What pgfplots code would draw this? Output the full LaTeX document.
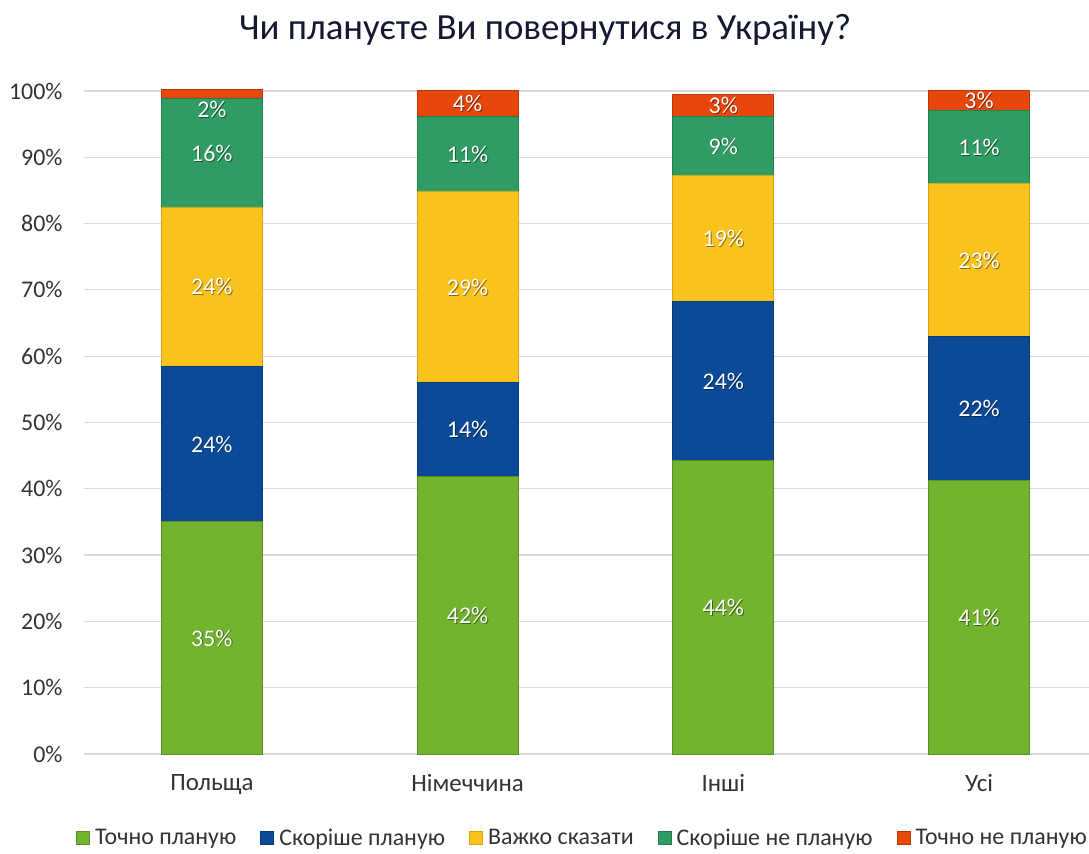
\documentclass[border=0pt]{standalone}
\usepackage{fontspec}
\setmainfont{Carlito}
\usepackage{pgfplots}
\usepackage{pgfplotstable}
\pgfplotsset{compat=1.18}
\definecolor{cA}{HTML}{72B42E}
\definecolor{cB}{HTML}{0B4A96}
\definecolor{cC}{HTML}{F9C21C}
\definecolor{cD}{HTML}{2E9C63}
\definecolor{cE}{HTML}{E8470C}
\definecolor{gridc}{HTML}{D9D9D9}
\definecolor{txt}{HTML}{333333}
\definecolor{titlec}{HTML}{141830}

% segment sizes (%)
\pgfplotstableread{
x  a     b     c     d     e
0  35.0  23.5  24.0  16.4  1.3
1  41.8  14.2  28.8  11.3  3.9
2  44.2  24.1  19.0  8.8   3.3
3  41.3  21.6  23.1  11.0  3.0
}\shares

% label positions (centre of each segment) and texts
\pgfplotstableread{
x  y      t
0  17.5   35\%
0  46.75  24\%
0  70.5   24\%
0  90.6   16\%
0  97.2   2\%
1  20.9   42\%
1  48.9   14\%
1  70.4   29\%
1  90.45  11\%
1  98.05  4\%
2  22.1   44\%
2  56.25  24\%
2  77.8   19\%
2  91.7   9\%
2  97.75  3\%
3  20.65  41\%
3  52.1   22\%
3  74.45  23\%
3  91.5   11\%
3  98.5   3\%
}\labels

\begin{document}
\begin{tikzpicture}
\pgfplotsset{
  base/.style={
    at={(0,0)}, anchor=south west,
    scale only axis, width=1005bp, height=663bp,
    xmin=-0.5, xmax=3.43, ymin=0, ymax=100,
    clip=false,
    axis line style={draw=none},
    tick style={draw=none},
  }
}
\begin{axis}[base,
  ybar stacked, bar width=101bp,
  ytick={0,10,...,100},
  yticklabel={\pgfmathprintnumber{\tick}\%},
  /pgf/number format/assume math mode=true,
  ymajorgrids, grid style={gridc, line width=1.2bp},
  yticklabel style={font=\fontsize{24}{28}\selectfont, text=txt, xshift=-18bp},
  xtick=data, xticklabels={Польща,Німеччина,Інші,Усі},
  xticklabel style={font=\fontsize{25}{29}\selectfont, text=txt, yshift=-17bp},
  legend columns=5,
  legend style={at={(0.496,0)}, anchor=center, yshift=-84bp, draw=none,
     font=\fontsize{24}{28}\selectfont, text=txt,
     /tikz/every odd column/.append style={column sep=3bp},
     /tikz/every even column/.append style={column sep=22bp}},
  legend image code/.code={\draw[#1, line width=1bp] (0bp,-6.5bp) rectangle (13bp,6.5bp);},
]
\addplot[fill=cA, draw=cA!80!black, line width=1bp] table[x=x,y=a]{\shares};
\addlegendentry{Точно планую}
\addplot[fill=cB, draw=cB!80!black, line width=1bp] table[x=x,y=b]{\shares};
\addlegendentry{Скоріше планую}
\addplot[fill=cC, draw=cC!85!black, line width=1bp] table[x=x,y=c]{\shares};
\addlegendentry{Важко сказати}
\addplot[fill=cD, draw=cD!80!black, line width=1bp] table[x=x,y=d]{\shares};
\addlegendentry{Скоріше не планую}
\addplot[fill=cE, draw=cE!80!black, line width=1bp] table[x=x,y=e]{\shares};
\addlegendentry{Точно не планую}
\end{axis}
\begin{axis}[base, axis lines=none, xtick=\empty, ytick=\empty]
\addplot[only marks, mark=none, point meta=explicit symbolic,
  nodes near coords,
  every node near coord/.style={anchor=center, font=\fontsize{24}{28}\selectfont, text=black, opacity=0.45, xshift=0.9bp, yshift=-0.9bp}]
  table[x=x,y=y,meta=t]{\labels};
\addplot[only marks, mark=none, point meta=explicit symbolic,
  nodes near coords,
  every node near coord/.style={anchor=center, font=\fontsize{24}{28}\selectfont, text=white}]
  table[x=x,y=y,meta=t]{\labels};
\end{axis}
\node[font=\fontsize{37}{42}\selectfont, text=titlec] at (461bp,724bp) {Чи плануєте Ви повернутися в Україну?};
\pgfresetboundingbox
\useasboundingbox (-84bp,-100bp) rectangle (1005bp,754bp);
\end{tikzpicture}
\end{document}
